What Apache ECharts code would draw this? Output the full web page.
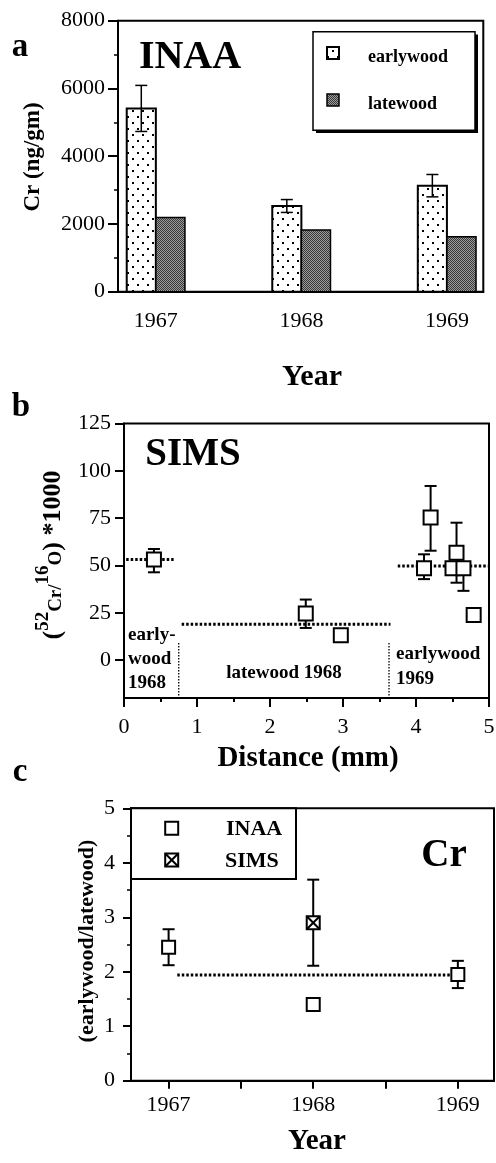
<!DOCTYPE html>
<html><head><meta charset="utf-8">
<script src="https://cdn.jsdelivr.net/npm/echarts@6/dist/echarts.min.js"></script>
<style>html,body{margin:0;padding:0;background:#fff}#c{width:496px;height:1163px}</style>
</head><body><div id="c"></div><script>
// ---------- DATA ----------
// Panel a (INAA)
const years = [1967, 1968, 1969];
const earlywood = [5410, 2530, 3130];
const earlywoodErr = [680, 190, 330];
const latewood = [2190, 1820, 1620];
const yTicksA = [0, 2000, 4000, 6000, 8000];

// Panel b (SIMS)
const simsDist = [0.41, 2.49, 2.97, 4.11, 4.20, 4.50, 4.555, 4.65, 4.79];
const simsVal  = [53.2, 24.7, 13.2, 48.5, 75.4, 48.5, 56.7, 48.5, 23.8];
const simsLow  = [46.4, 17.0, null, 42.8, 57.8, null, 40.9, 36.6, null];
const simsHigh = [58.7, 32.0, null, 55.9, 92.0, null, 72.6, null, null];
const zoneMeanStart = [0.03, 0.79, 3.75];
const zoneMeanEnd   = [0.68, 3.65, 5.0];
const zoneMeanVal   = [53.2, 18.9, 49.7];
const zoneBoundary  = [0.75, 3.63];
const zoneBoundaryTop = 9;
const yTicksB = [0, 25, 50, 75, 100, 125];

// Panel c (ratio)
const ratioYears = [1967, 1968, 1969];
const inaaRatio = [2.45, 1.40, 1.95];
const inaaRatioErr = [0.33, null, 0.25];
const simsRatioYears = [1968];
const simsRatio = [2.90];
const simsRatioErr = [0.79];
const meanRatio = 1.94;
const meanRatioFrom = 1967.06, meanRatioTo = 1968.99;
const xTicksC = [1967, 1967.5, 1968, 1968.5, 1969];

// ---------- PATTERNS ----------
function dotPattern(){
  const c = document.createElement('canvas'); c.width = 10; c.height = 12;
  const g = c.getContext('2d');
  g.fillStyle = '#fff'; g.fillRect(0,0,10,12);
  g.fillStyle = '#000';
  g.fillRect(2,2,2,2); g.fillRect(7,8,2,2);
  return {image: c, repeat: 'repeat'};
}
function grayPattern(){
  const c = document.createElement('canvas'); c.width = 2; c.height = 2;
  const g = c.getContext('2d');
  g.fillStyle = '#9a9a9a'; g.fillRect(0,0,2,2);
  g.fillStyle = '#3a3a3a'; g.fillRect(0,0,1,1); g.fillRect(1,1,1,1);
  return {image: c, repeat: 'repeat'};
}
const DOTS = dotPattern(), GRAY = grayPattern();

const SERIF = '"Liberation Serif","DejaVu Serif",serif';
const black = '#000';
const plain = v => String(v);
const tickLabel = {color: black, fontFamily: SERIF, fontSize: 22, formatter: plain};

// ---------- RENDERERS ----------
const barW = 0.2;
function barRender(side, fill, lw){
  return function(params, api){
    const x = api.value(0), v = api.value(1);
    const p0 = api.coord([x, 0]), p1 = api.coord([x, v]);
    const w = api.size([barW, 0])[0];
    const left = side < 0 ? p0[0] - w : p0[0];
    return {type:'rect', shape:{x:left, y:p1[1], width:w, height:p0[1]-p1[1]},
      style:{fill: fill, stroke: black, lineWidth: lw}};
  };
}
function errRender(capHalf, lw, xShift){
  return function(params, api){
    const x = api.value(0) + (xShift || 0), y = api.value(1), lo = api.value(2), hi = api.value(3);
    const pc = api.coord([x, y]), pl = api.coord([x, lo]), ph = api.coord([x, hi]);
    const s = {stroke: black, lineWidth: lw};
    const ch = [{type:'line', shape:{x1:pc[0], y1:pl[1], x2:pc[0], y2:ph[1]}, style:s}];
    if (lo !== y) ch.push({type:'line', shape:{x1:pc[0]-capHalf, y1:pl[1], x2:pc[0]+capHalf, y2:pl[1]}, style:s});
    if (hi !== y) ch.push({type:'line', shape:{x1:pc[0]-capHalf, y1:ph[1], x2:pc[0]+capHalf, y2:ph[1]}, style:s});
    return {type:'group', children: ch};
  };
}
function hLineRender(dash, lw){
  return function(params, api){
    const a = api.coord([api.value(0), api.value(2)]), b = api.coord([api.value(1), api.value(2)]);
    return {type:'line', shape:{x1:a[0], y1:a[1], x2:b[0], y2:b[1]}, style:{stroke:black, lineWidth:lw, lineDash:dash}};
  };
}
function vLineRender(dash, lw){
  return function(params, api){
    const a = api.coord([api.value(0), api.value(1)]), b = api.coord([api.value(0), api.value(2)]);
    return {type:'line', shape:{x1:a[0], y1:a[1], x2:b[0], y2:b[1]}, style:{stroke:black, lineWidth:lw, lineDash:dash}};
  };
}
function boxX(cx, cy, s, z){
  const h = s/2;
  const zz = z == null ? undefined : z;
  return [
    {type:'rect', z:zz, shape:{x:cx-h, y:cy-h, width:s, height:s}, style:{fill:'#fff', stroke:black, lineWidth:2}},
    {type:'line', z:zz, shape:{x1:cx-h, y1:cy-h, x2:cx+h, y2:cy+h}, style:{stroke:black, lineWidth:2}},
    {type:'line', z:zz, shape:{x1:cx+h, y1:cy-h, x2:cx-h, y2:cy+h}, style:{stroke:black, lineWidth:2}}
  ];
}
function simsMarkRender(params, api){
  const p = api.coord([api.value(0), api.value(1)]);
  return {type:'group', children: boxX(p[0], p[1], 13)};
}

// ---------- DERIVED SERIES DATA ----------
const earlyData = years.map((y,i)=>[y, earlywood[i]]);
const lateData = years.map((y,i)=>[y, latewood[i]]);
const earlyErrData = years.map((y,i)=>[y, earlywood[i], earlywood[i]-earlywoodErr[i], earlywood[i]+earlywoodErr[i]]);
const simsPts = simsDist.map((d,i)=>[d, simsVal[i]]);
const simsErrData = simsDist.map((d,i)=>[d, simsVal[i], simsLow[i]==null?simsVal[i]:simsLow[i], simsHigh[i]==null?simsVal[i]:simsHigh[i]]);
const meanBData = zoneMeanVal.map((v,i)=>[zoneMeanStart[i], zoneMeanEnd[i], v]);
const boundData = zoneBoundary.map(x=>[x, zoneBoundaryTop, -20]);
const inaaPts = ratioYears.map((y,i)=>[y, inaaRatio[i]]);
const inaaErrData = ratioYears.map((y,i)=>[y, inaaRatio[i], inaaRatioErr[i]==null?inaaRatio[i]:inaaRatio[i]-inaaRatioErr[i], inaaRatioErr[i]==null?inaaRatio[i]:inaaRatio[i]+inaaRatioErr[i]]);
const simsRPts = simsRatioYears.map((y,i)=>[y, simsRatio[i]]);
const simsRErrData = simsRatioYears.map((y,i)=>[y, simsRatio[i], simsRatio[i]-simsRatioErr[i], simsRatio[i]+simsRatioErr[i]]);
const meanCData = [[meanRatioFrom, meanRatioTo, meanRatio]];

// ---------- CHART ----------
const chart = echarts.init(document.getElementById('c'), null, {renderer:'canvas'});
const gridBase = {show:true, borderColor:black, borderWidth:2, backgroundColor:'transparent', containLabel:false, outerBoundsMode:'none'};
const axLine = {show:true, onZero:false, lineStyle:{color:black, width:2}};

function txt(x, y, text, size, opts){
  opts = opts || {};
  return {type:'text', x:x, y:y, rotation: opts.rot || 0, z: 100,
    style:{text:text, fill:black, font:(opts.bold===false?'':'bold ')+size+'px '+SERIF,
      align: opts.align || 'center', verticalAlign: opts.va || 'middle'}};
}

const option = {
  animation:false,
  grid:[
    Object.assign({left:118, top:20.7, width:365.3, height:271}, gridBase),
    Object.assign({left:124, top:423.5, width:365, height:274.5}, gridBase),
    Object.assign({left:131, top:808.3, width:363, height:272.4}, gridBase)
  ],
  xAxis:[
    {gridIndex:0, type:'value', min:1966.74, max:1969.25, axisLine:axLine, splitLine:{show:false},
      axisTick:{show:false}, axisLabel:Object.assign({customValues:years, margin:19}, tickLabel)},
    {gridIndex:1, type:'value', min:0, max:5, interval:1, axisLine:axLine, splitLine:{show:false},
      axisTick:{show:true, inside:false, length:9, lineStyle:{color:black, width:2}},
      minorTick:{show:true, splitNumber:2, length:4, lineStyle:{color:black, width:2}},
      axisLabel:Object.assign({margin:18}, tickLabel)},
    {gridIndex:2, type:'value', min:1966.74, max:1969.25, axisLine:axLine, splitLine:{show:false},
      axisTick:{show:true, customValues:xTicksC, inside:false, length:8, lineStyle:{color:black, width:2}},
      axisLabel:Object.assign({customValues:ratioYears, margin:14}, tickLabel)}
  ],
  yAxis:[
    {gridIndex:0, type:'value', min:0, max:8000, interval:2000, axisLine:axLine, splitLine:{show:false},
      axisTick:{show:true, length:10, lineStyle:{color:black, width:2}},
      minorTick:{show:true, splitNumber:2, length:4, lineStyle:{color:black, width:1.5}},
      axisLabel:Object.assign({margin:13, customValues:yTicksA}, tickLabel)},
    {gridIndex:1, type:'value', min:-20, max:125, axisLine:axLine, splitLine:{show:false},
      axisTick:{show:true, customValues:yTicksB, length:9, lineStyle:{color:black, width:2}},
      axisLabel:Object.assign({customValues:yTicksB, margin:13}, tickLabel)},
    {gridIndex:2, type:'value', min:0, max:5, interval:1, axisLine:axLine, splitLine:{show:false},
      axisTick:{show:true, length:8, lineStyle:{color:black, width:2}},
      minorTick:{show:true, splitNumber:2, length:4, lineStyle:{color:black, width:1.5}},
      axisLabel:Object.assign({margin:16}, tickLabel)}
  ],
  series:[
    // panel a
    {type:'custom', name:'earlywood', xAxisIndex:0, yAxisIndex:0, data:earlyData, renderItem:barRender(-1, DOTS, 2), z:2},
    {type:'custom', name:'latewood', xAxisIndex:0, yAxisIndex:0, data:lateData, renderItem:barRender(1, GRAY, 1.5), z:2},
    {type:'custom', name:'earlywood error', xAxisIndex:0, yAxisIndex:0, data:earlyErrData, renderItem:errRender(6, 1.5, -barW/2), z:3},
    // panel b
    {type:'custom', name:'zone mean', xAxisIndex:1, yAxisIndex:1, data:meanBData, renderItem:hLineRender([2.5,2], 3), z:2},
    {type:'custom', name:'zone boundary', xAxisIndex:1, yAxisIndex:1, data:boundData, renderItem:vLineRender([1.5,1.5], 1.3), z:2},
    {type:'custom', name:'sims error', xAxisIndex:1, yAxisIndex:1, data:simsErrData, renderItem:errRender(6, 2), z:3},
    {type:'scatter', name:'SIMS', xAxisIndex:1, yAxisIndex:1, data:simsPts, symbol:'rect', symbolSize:14,
      itemStyle:{color:'#fff', borderColor:black, borderWidth:2, opacity:1}, z:4},
    // panel c
    {type:'custom', name:'ratio mean', xAxisIndex:2, yAxisIndex:2, data:meanCData, renderItem:hLineRender([2.5,2], 3), z:2},
    {type:'custom', name:'inaa ratio error', xAxisIndex:2, yAxisIndex:2, data:inaaErrData, renderItem:errRender(6, 2), z:3},
    {type:'custom', name:'sims ratio error', xAxisIndex:2, yAxisIndex:2, data:simsRErrData, renderItem:errRender(6, 2), z:3},
    {type:'scatter', name:'INAA', xAxisIndex:2, yAxisIndex:2, data:inaaPts, symbol:'rect', symbolSize:13,
      itemStyle:{color:'#fff', borderColor:black, borderWidth:2, opacity:1}, z:4},
    {type:'custom', name:'SIMS ratio', xAxisIndex:2, yAxisIndex:2, data:simsRPts, renderItem:simsMarkRender, z:4}
  ],
  graphic:[
    // panel letters
    txt(20, 47, 'a', 33), txt(21, 407, 'b', 33), txt(20, 772, 'c', 33),
    // panel a
    txt(190, 58, 'INAA', 40),
    txt(33, 157, 'Cr (ng/gm)', 23, {rot:Math.PI/2}),
    txt(312, 377, 'Year', 30),
    {type:'rect', z:90, shape:{x:316, y:34.5, width:162, height:98.5}, style:{fill:black}},
    {type:'rect', z:91, shape:{x:313, y:31.7, width:162, height:98.5}, style:{fill:'#fff', stroke:black, lineWidth:1.5}},
    {type:'rect', z:92, shape:{x:327, y:47, width:12, height:12}, style:{fill:DOTS, stroke:black, lineWidth:2}},
    {type:'rect', z:92, shape:{x:327, y:94, width:12, height:12}, style:{fill:GRAY, stroke:black, lineWidth:1.5}},
    txt(368, 57, 'earlywood', 18, {align:'left'}),
    txt(368, 104, 'latewood', 18, {align:'left'}),
    // panel b
    txt(193, 455, 'SIMS', 39),
    {type:'text', x:50, y:555, rotation:Math.PI/2, z:100, style:{
      text:'{m|(}{sup|52}{sub|Cr/}{sup|16}{sub|O}{m|) *1000}', align:'center', verticalAlign:'middle',
      rich:{
        m:{font:'bold 26px '+SERIF, fill:black, lineHeight:32, verticalAlign:'bottom'},
        sup:{font:'bold 19px '+SERIF, fill:black, lineHeight:32, verticalAlign:'top'},
        sub:{font:'bold 19px '+SERIF, fill:black, lineHeight:32, verticalAlign:'bottom'}
      }}},
    txt(128, 635, 'early-', 19, {align:'left'}),
    txt(128, 659, 'wood', 19, {align:'left'}),
    txt(128, 683, '1968', 19, {align:'left'}),
    txt(284, 673, 'latewood 1968', 19),
    txt(396, 654, 'earlywood', 19, {align:'left'}),
    txt(396, 679, '1969', 19, {align:'left'}),
    txt(308, 759, 'Distance (mm)', 29),
    // panel c
    {type:'rect', z:90, shape:{x:131, y:808.3, width:165, height:70.7}, style:{fill:'#fff', stroke:black, lineWidth:2}},
    {type:'rect', z:92, shape:{x:165.2, y:821.8, width:13, height:13}, style:{fill:'#fff', stroke:black, lineWidth:2}},
    ...boxX(171.7, 860, 13, 93),
    txt(226, 829, 'INAA', 22, {align:'left'}),
    txt(225, 861, 'SIMS', 22, {align:'left'}),
    txt(444, 856, 'Cr', 39),
    txt(87, 941, '(earlywood/latewood)', 22, {rot:Math.PI/2}),
    txt(317, 1142, 'Year', 29)
  ]
};
chart.setOption(option);
</script></body></html>
